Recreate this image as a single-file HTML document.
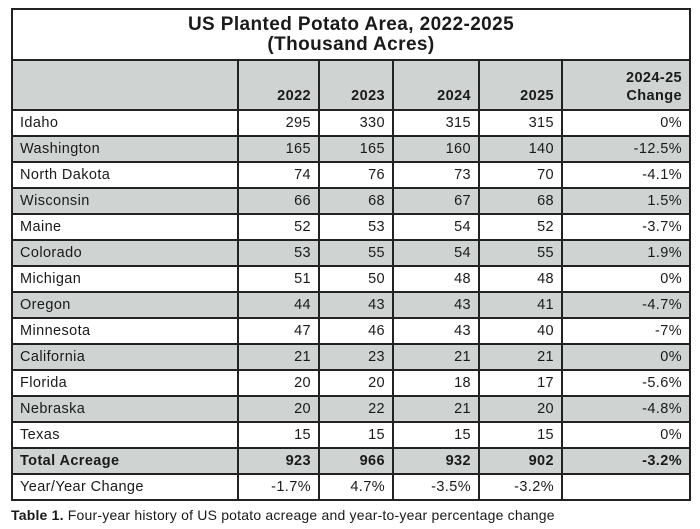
<!DOCTYPE html>
<html><head><style>
body{margin:0;width:700px;height:529px;background:#fff;font-family:"Liberation Sans",Arial,sans-serif;color:#1a1a1a;position:relative;overflow:hidden}
table{position:absolute;left:11px;top:8px;border-collapse:collapse;table-layout:fixed;width:678px}
td{border:2px solid #222;padding:0 7px;font-size:14.5px;height:24px;text-align:right;white-space:nowrap;letter-spacing:0.4px}
td:first-child{text-align:left}
tr.g td{background:#cfd3d2}
.t td{text-align:center;font-weight:bold;font-size:19px;line-height:20px;height:49px;padding:0}
.h td{height:44px;vertical-align:bottom;font-weight:bold;padding-bottom:4px;line-height:18px}
.b td{font-weight:bold}
.cap{position:absolute;left:11px;top:507px;font-size:14px;letter-spacing:0.2px}
</style></head><body>
<table>
<colgroup><col style="width:226px"><col style="width:81px"><col style="width:74px"><col style="width:86px"><col style="width:83px"><col style="width:128px"></colgroup>
<tr class="t"><td colspan="6" style="text-align:center">US Planted Potato Area, 2022-2025<br>(Thousand Acres)</td></tr>
<tr class="h g"><td></td><td>2022</td><td>2023</td><td>2024</td><td>2025</td><td>2024-25<br>Change</td></tr>
<tr><td>Idaho</td><td>295</td><td>330</td><td>315</td><td>315</td><td>0%</td></tr>
<tr class="g"><td>Washington</td><td>165</td><td>165</td><td>160</td><td>140</td><td>-12.5%</td></tr>
<tr><td>North Dakota</td><td>74</td><td>76</td><td>73</td><td>70</td><td>-4.1%</td></tr>
<tr class="g"><td>Wisconsin</td><td>66</td><td>68</td><td>67</td><td>68</td><td>1.5%</td></tr>
<tr><td>Maine</td><td>52</td><td>53</td><td>54</td><td>52</td><td>-3.7%</td></tr>
<tr class="g"><td>Colorado</td><td>53</td><td>55</td><td>54</td><td>55</td><td>1.9%</td></tr>
<tr><td>Michigan</td><td>51</td><td>50</td><td>48</td><td>48</td><td>0%</td></tr>
<tr class="g"><td>Oregon</td><td>44</td><td>43</td><td>43</td><td>41</td><td>-4.7%</td></tr>
<tr><td>Minnesota</td><td>47</td><td>46</td><td>43</td><td>40</td><td>-7%</td></tr>
<tr class="g"><td>California</td><td>21</td><td>23</td><td>21</td><td>21</td><td>0%</td></tr>
<tr><td>Florida</td><td>20</td><td>20</td><td>18</td><td>17</td><td>-5.6%</td></tr>
<tr class="g"><td>Nebraska</td><td>20</td><td>22</td><td>21</td><td>20</td><td>-4.8%</td></tr>
<tr><td>Texas</td><td>15</td><td>15</td><td>15</td><td>15</td><td>0%</td></tr>
<tr class="g b"><td>Total Acreage</td><td>923</td><td>966</td><td>932</td><td>902</td><td>-3.2%</td></tr>
<tr><td>Year/Year Change</td><td>-1.7%</td><td>4.7%</td><td>-3.5%</td><td>-3.2%</td><td></td></tr>
</table>
<div class="cap"><b>Table 1.</b> Four-year history of US potato acreage and year-to-year percentage change</div>
</body></html>
